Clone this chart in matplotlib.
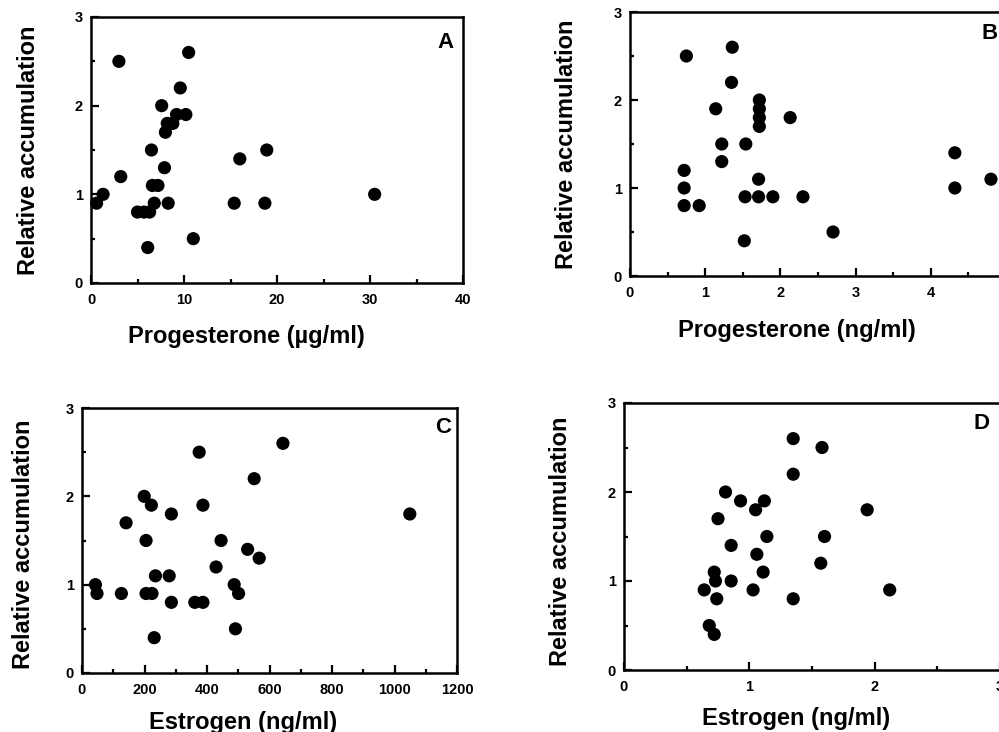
import matplotlib
matplotlib.use("Agg")
import matplotlib.pyplot as plt
from matplotlib.ticker import MultipleLocator, FixedLocator

plt.rcParams['font.family'] = ['Liberation Sans', 'DejaVu Sans']
plt.rcParams['font.weight'] = 'bold'
plt.rcParams['axes.labelweight'] = 'bold'

# panel A: progesterone (ug/ml)
a_x = [0.6, 1.3, 3.0, 3.2, 5.0, 5.7, 6.3, 6.1, 6.5, 6.6, 7.2, 6.8, 7.6, 7.9,
       8.0, 8.2, 8.8, 8.3, 9.2, 9.6, 10.2, 10.5, 11.0, 15.4, 16.0, 18.7, 18.9, 30.5]
a_y = [0.9, 1.0, 2.5, 1.2, 0.8, 0.8, 0.8, 0.4, 1.5, 1.1, 1.1, 0.9, 2.0, 1.3,
       1.7, 1.8, 1.8, 0.9, 1.9, 2.2, 1.9, 2.6, 0.5, 0.9, 1.4, 0.9, 1.5, 1.0]

# panel B: progesterone (ng/ml)
b_x = [0.75, 0.72, 0.72, 0.72, 0.92, 1.14, 1.22, 1.22, 1.36, 1.35, 1.54, 1.53, 1.52,
       1.72, 1.72, 1.72, 1.72, 1.71, 1.71, 1.9, 2.13, 2.3, 2.7, 4.32, 4.32, 4.8]
b_y = [2.5, 1.2, 1.0, 0.8, 0.8, 1.9, 1.5, 1.3, 2.6, 2.2, 1.5, 0.9, 0.4,
       2.0, 1.9, 1.8, 1.7, 1.1, 0.9, 0.9, 1.8, 0.9, 0.5, 1.4, 1.0, 1.1]

# panel C: estrogen (ng/ml)
c_x = [43, 48, 126, 141, 199, 205, 205, 224, 222, 235, 231, 279, 286, 286,
       361, 387, 375, 387, 429, 445, 487, 501, 491, 530, 551, 567, 643, 1049]
c_y = [1.0, 0.9, 0.9, 1.7, 2.0, 1.5, 0.9, 0.9, 1.9, 1.1, 0.4, 1.1, 1.8, 0.8,
       0.8, 0.8, 2.5, 1.9, 1.2, 1.5, 1.0, 0.9, 0.5, 1.4, 2.2, 1.3, 2.6, 1.8]

# panel D: estrogen (ng/ml)
d_x = [0.64, 0.68, 0.72, 0.72, 0.73, 0.74, 0.75, 0.81, 0.855, 0.855, 0.93, 1.03, 1.05,
       1.06, 1.11, 1.12, 1.14, 1.35, 1.35, 1.35, 1.57, 1.58, 1.6, 1.94, 2.12]
d_y = [0.9, 0.5, 0.4, 1.1, 1.0, 0.8, 1.7, 2.0, 1.4, 1.0, 1.9, 0.9, 1.8,
       1.3, 1.1, 1.9, 1.5, 2.6, 2.2, 0.8, 1.2, 2.5, 1.5, 1.8, 0.9]

W, H = 999.0, 732.0
fig = plt.figure(figsize=(9.99, 7.32), dpi=100)


def panel(px, py, xs, ys, xmax, xmaj, xmin, xlab, letter, xl_pos, yl_pos, let_pos):
    # px = (left, right) pixels, py = (top, bottom) pixels
    ax = fig.add_axes([px[0] / W, 1 - py[1] / H, (px[1] - px[0]) / W, (py[1] - py[0]) / H])
    ax.scatter(xs, ys, s=90, color='black', edgecolors='none', zorder=3, clip_on=False)
    ax.set_xlim(0, xmax)
    ax.set_ylim(0, 3)
    ax.xaxis.set_major_locator(FixedLocator(xmaj))
    ax.xaxis.set_minor_locator(MultipleLocator(xmin))
    ax.yaxis.set_major_locator(MultipleLocator(1))
    ax.yaxis.set_minor_locator(MultipleLocator(0.5))
    ax.tick_params(which='major', direction='in', length=6, width=1.6, labelsize=10.5, pad=7)
    ax.tick_params(which='minor', direction='in', length=3, width=1.6)
    ax.tick_params(axis='y', pad=6)
    for sp in ax.spines.values():
        sp.set_linewidth(1.8)
    ax.set_xlabel(xlab, fontsize=17)
    ax.set_ylabel('Relative accumulation', fontsize=17)
    ax.xaxis.set_label_coords(*xl_pos)
    ax.yaxis.set_label_coords(*yl_pos)
    ax.xaxis.label.set_va('center')
    ax.yaxis.label.set_va('center')
    ax.text(let_pos[0], let_pos[1], letter, transform=ax.transAxes, fontsize=16,
            ha='center', va='center')
    return ax


panel((91, 463), (17, 283), a_x, a_y, 40, [0, 10, 20, 30, 40], 5,
      'Progesterone (µg/ml)', 'A', (0.419, -0.203), (-0.169, 0.5), (0.952, 0.906))
panel((630, 1006), (12, 276), b_x, b_y, 5, [0, 1, 2, 3, 4], 0.5,
      'Progesterone (ng/ml)', 'B', (0.444, -0.205), (-0.168, 0.5), (0.957, 0.92))
panel((82, 457), (408, 673), c_x, c_y, 1200, [0, 200, 400, 600, 800, 1000, 1200], 100,
      'Estrogen (ng/ml)', 'C', (0.43, -0.185), (-0.157, 0.487), (0.963, 0.928))
panel((624, 1000), (403, 670), d_x, d_y, 3, [0, 1, 2, 3], 0.5,
      'Estrogen (ng/ml)', 'D', (0.457, -0.18), (-0.168, 0.483), (0.952, 0.925))

fig.savefig('out.png', dpi=100)
